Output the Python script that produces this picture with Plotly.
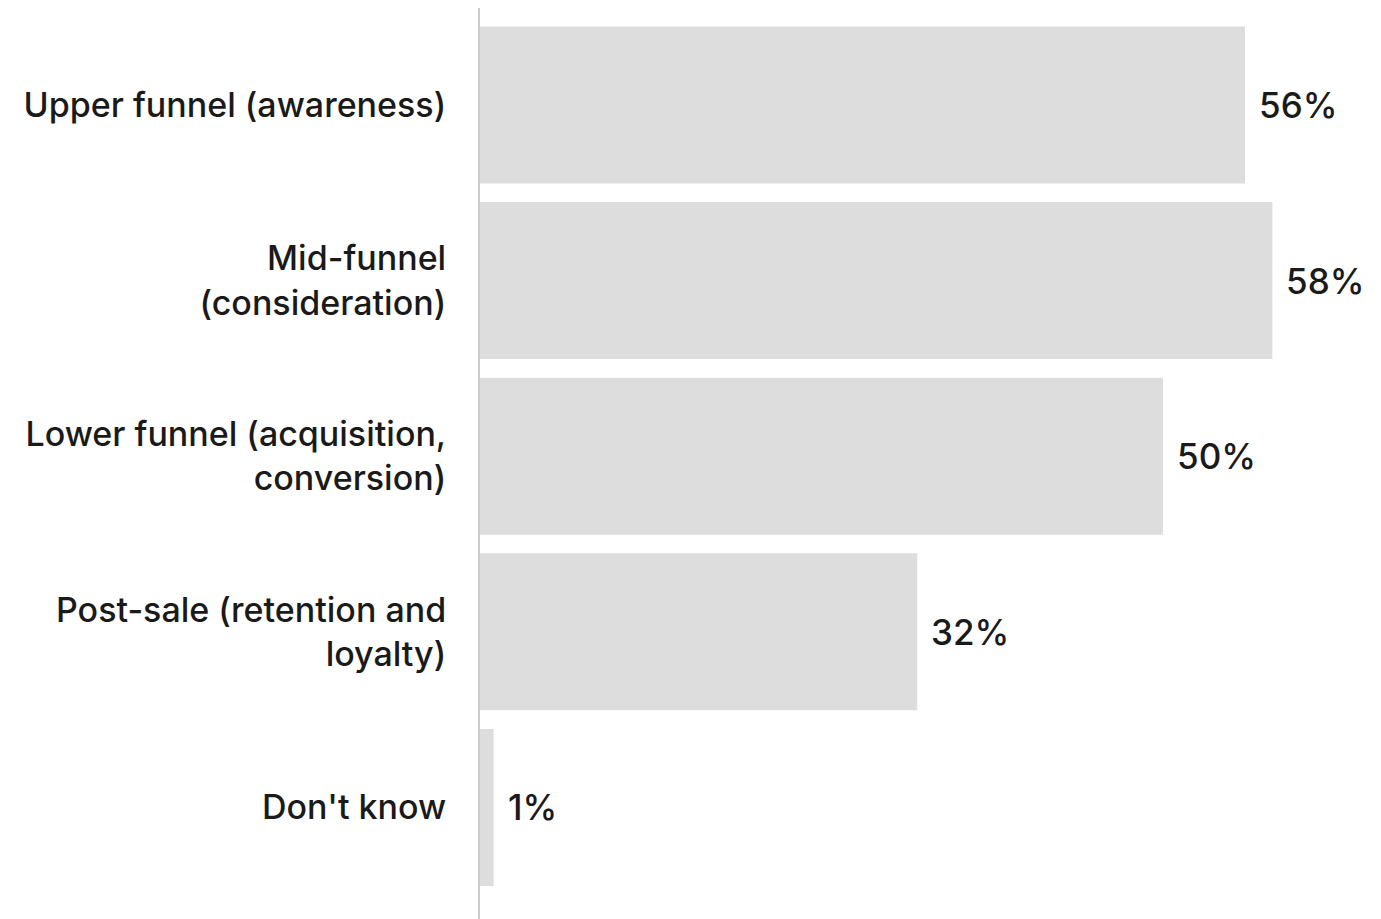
import plotly.graph_objects as go

categories = [
    "Upper funnel (awareness)",
    "Mid-funnel<br>(consideration)",
    "Lower funnel (acquisition,<br>conversion)",
    "Post-sale (retention and<br>loyalty)",
    "Don't know",
]
values = [56, 58, 50, 32, 1]
value_labels = ["56%", "58%", "50%", "32%", "1%"]

FONT = "Inter"
TEXT_COLOR = "#1a1a1a"
FSIZE = 34

fig = go.Figure()
fig.add_trace(go.Bar(
    x=values,
    y=categories,
    orientation="h",
    marker=dict(color="#dddddd", line=dict(width=0)),
    hoverinfo="skip",
))

for cat, v, lab in zip(categories, values, value_labels):
    fig.add_annotation(
        x=v, y=cat, text=lab, showarrow=False,
        xanchor="left", yanchor="middle", xshift=12,
        font=dict(family=FONT, size=FSIZE + 1, color=TEXT_COLOR, weight=500),
    )

fig.update_layout(
    width=1381, height=919,
    margin=dict(l=472, r=21, t=0, b=8),
    paper_bgcolor="white", plot_bgcolor="white",
    bargap=0.106,
    showlegend=False,
    font=dict(family=FONT, size=FSIZE, color=TEXT_COLOR),
    xaxis=dict(range=[0, 65], visible=False, fixedrange=True),
    yaxis=dict(
        categoryorder="array", categoryarray=categories,
        range=[4.635, -0.552],
        showline=True, linecolor="#cccccc", linewidth=2,
        showgrid=False, zeroline=False, ticks="",
        ticklabelstandoff=25,
        tickfont=dict(family=FONT, size=FSIZE, color=TEXT_COLOR, weight=500),
    ),
)

fig.write_html("out.html")
